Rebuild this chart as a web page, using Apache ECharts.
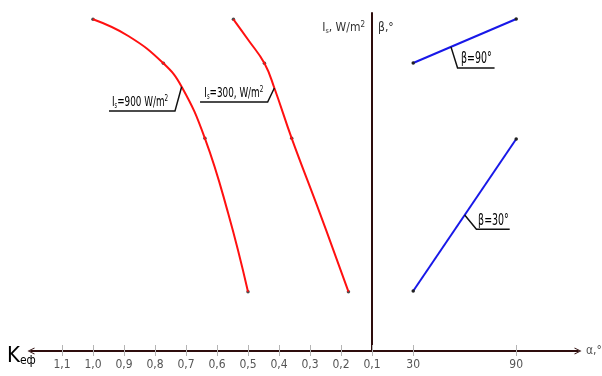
<!DOCTYPE html>
<html><head><meta charset="utf-8">
<script src="https://cdn.jsdelivr.net/npm/echarts@6/dist/echarts.min.js"></script>
<style>html,body{margin:0;padding:0;background:#fff}#c{width:602px;height:376px}</style>
</head><body><div id="c"></div>
<script>
// ---- data ----
const kTicks = [1.1, 1.0, 0.9, 0.8, 0.7, 0.6, 0.5, 0.4, 0.3, 0.2, 0.1];
const alphaTicks = [30, 90];
const curve900K = [1.0, 0.886, 0.773, 0.714, 0.639, 0.564, 0.5];
const curve900Y = [331.7, 315, 287.7, 264.3, 212.7, 137.7, 59.3];
const curve300K = [0.547, 0.499, 0.447, 0.415, 0.359, 0.268, 0.176];
const curve300Y = [331.7, 311, 287.7, 263, 212.7, 137.7, 59.3];
const pts900K = [1.0, 0.773, 0.639, 0.5];
const pts900Y = [331.7, 287.7, 212.7, 59.3];
const pts300K = [0.547, 0.447, 0.359, 0.176];
const pts300Y = [331.7, 287.7, 212.7, 59.3];
const beta90Alpha = [30, 90];
const beta90Y = [288, 332];
const beta30Alpha = [30, 90];
const beta30Y = [60, 212];

// ---- styles ----
const FONT = "'DejaVu Sans Condensed','Liberation Sans Narrow',sans-serif";
const AXIS_COLOR = '#2e0d0d';
const TICK_COLOR = '#b4b4b4';
const chevron = 'path://M50,0 L100,100 L86,100 L50,26 L14,100 L0,100 Z';
const zip = (a, b) => a.map((v, i) => [v, b[i]]);
const kFmt = v => Number(v).toFixed(1).replace('.', ',');
const nameRich = {
  a: {fontSize: 12, lineHeight: 14, color: '#333', fontFamily: FONT},
  s: {fontSize: 7, lineHeight: 7, color: '#333', fontFamily: FONT, verticalAlign: 'bottom'},
  p: {fontSize: 8, lineHeight: 8, color: '#333', fontFamily: FONT, verticalAlign: 'top'},
  b: {fontSize: 12, lineHeight: 14, color: '#333', fontFamily: FONT}
};
const labelRich = {
  a: {fontSize: 14, lineHeight: 16, color: '#333', fontFamily: FONT},
  s: {fontSize: 8, lineHeight: 8, color: '#333', fontFamily: FONT, verticalAlign: 'bottom'},
  p: {fontSize: 9, lineHeight: 9, color: '#333', fontFamily: FONT, verticalAlign: 'top'},
  b: {fontSize: 15, lineHeight: 16, color: '#333', fontFamily: FONT}
};

const chart = echarts.init(document.getElementById('c'));

function upTickAxis(grid, min, max, inverse, ticks) {
  return {gridIndex: grid, type: 'value', min: min, max: max, inverse: inverse, position: 'top', offset: -338,
    axisLine: {show: false, onZero: false}, axisTick: {show: true, customValues: ticks, length: 6, lineStyle: {color: TICK_COLOR, width: 1}},
    axisLabel: {show: false}, splitLine: {show: false}};
}

const option = {
  animation: false,
  backgroundColor: '#fff',
  grid: [
    {left: 31, right: 230, top: 13, bottom: 25, containLabel: false, outerBoundsMode: 'none'},
    {left: 372, right: 24, top: 13, bottom: 25, containLabel: false, outerBoundsMode: 'none'}
  ],
  xAxis: [
    {gridIndex: 0, type: 'value', min: 0.1, max: 1.2, inverse: true, position: 'bottom',
      axisLine: {show: true, onZero: false, lineStyle: {color: AXIS_COLOR, width: 2}, symbol: [chevron, 'none'], symbolSize: [10, 7], symbolOffset: [0, 0]},
      axisTick: {show: true, customValues: kTicks, length: 5, lineStyle: {color: TICK_COLOR, width: 1}},
      axisLabel: {customValues: kTicks, formatter: kFmt, margin: 8, color: '#555', fontSize: 12, fontFamily: FONT},
      splitLine: {show: false}},
    upTickAxis(0, 0.1, 1.2, true, kTicks),
    {gridIndex: 1, type: 'value', min: 6, max: 126, position: 'bottom',
      axisLine: {show: true, onZero: false, lineStyle: {color: AXIS_COLOR, width: 2}, symbol: ['none', chevron], symbolSize: [10, 7], symbolOffset: [0, 0]},
      axisTick: {show: true, customValues: alphaTicks, length: 5, lineStyle: {color: TICK_COLOR, width: 1}},
      axisLabel: {customValues: alphaTicks, formatter: v => String(v), margin: 8, color: '#555', fontSize: 12, fontFamily: FONT},
      splitLine: {show: false},
      name: 'α,°', nameLocation: 'end', nameGap: 8,
      nameTextStyle: {color: '#555', fontSize: 12, fontFamily: FONT, verticalAlign: 'middle', align: 'left'}},
    upTickAxis(1, 6, 126, false, alphaTicks)
  ],
  yAxis: [
    {gridIndex: 0, type: 'value', min: 0, max: 338, position: 'right',
      axisLine: {show: false}, axisTick: {show: false}, axisLabel: {show: false}, splitLine: {show: false},
      name: '{a|I}{s|s}{a|, W/m}{p|2}', nameLocation: 'end', nameGap: -15,
      nameTextStyle: {align: 'right', verticalAlign: 'middle', padding: [0, 7, 0, 0], rich: nameRich}},
    {gridIndex: 1, type: 'value', min: 0, max: 338, position: 'left',
      axisLine: {show: true, onZero: false, lineStyle: {color: AXIS_COLOR, width: 2}},
      axisTick: {show: false}, axisLabel: {show: false}, splitLine: {show: false},
      name: '{b|β,°}', nameLocation: 'end', nameGap: -15,
      nameTextStyle: {align: 'left', verticalAlign: 'middle', padding: [0, 0, 0, 6], rich: nameRich}}
  ],
  series: [
    {type: 'line', xAxisIndex: 0, yAxisIndex: 0, data: zip(curve900K, curve900Y), smooth: 0.45, showSymbol: false,
      lineStyle: {color: '#ff1010', width: 2}},
    {type: 'line', xAxisIndex: 0, yAxisIndex: 0, data: zip(curve300K, curve300Y), smooth: 0.45, showSymbol: false,
      lineStyle: {color: '#ff1010', width: 2}},
    {type: 'scatter', xAxisIndex: 0, yAxisIndex: 0, data: zip(pts900K, pts900Y).concat(zip(pts300K, pts300Y)),
      symbolSize: 3.5, itemStyle: {color: '#222'}},
    {type: 'line', xAxisIndex: 2, yAxisIndex: 1, data: zip(beta90Alpha, beta90Y), symbol: 'circle', symbolSize: 3.5,
      itemStyle: {color: '#222'}, lineStyle: {color: '#1818e8', width: 2}},
    {type: 'line', xAxisIndex: 2, yAxisIndex: 1, data: zip(beta30Alpha, beta30Y), symbol: 'circle', symbolSize: 3.5,
      itemStyle: {color: '#222'}, lineStyle: {color: '#1818e8', width: 2}}
  ]
};
chart.setOption(option);

// ---- annotations anchored to data points ----
const annotations = [
  {text: '{a|I}{s|s}{a|=900 W/m}{p|2}', axes: {xAxisIndex: 0, yAxisIndex: 0}, at: [0.714, 264.3],
    leader: [[0, 0], [-6.7, 24.4], [-72.7, 24.4]], textAt: [-69.7, 23.4]},
  {text: '{a|I}{s|s}{a|=300, W/m}{p|2}', axes: {xAxisIndex: 0, yAxisIndex: 0}, at: [0.415, 263],
    leader: [[0, 0], [-6.7, 14], [-74.3, 14]], textAt: [-70, 13.4]},
  {text: '{b|β=90°}', axes: {xAxisIndex: 2, yAxisIndex: 1}, at: [52, 304.1],
    leader: [[0, 0], [6.6, 21], [43.6, 21]], textAt: [10, 20.4]},
  {text: '{b|β=30°}', axes: {xAxisIndex: 2, yAxisIndex: 1}, at: [60, 136],
    leader: [[0, 0], [11.7, 14.3], [45, 14.3]], textAt: [13.4, 13.7]}
];
const graphics = [];
annotations.forEach(a => {
  const p = chart.convertToPixel(a.axes, a.at);
  graphics.push({type: 'polyline', silent: true, z: 10,
    shape: {points: a.leader.map(o => [p[0] + o[0], p[1] + o[1]])},
    style: {stroke: '#111', lineWidth: 1.5, fill: null}});
  graphics.push({type: 'text', silent: true, z: 10, x: p[0] + a.textAt[0], y: p[1] + a.textAt[1], scaleX: 0.7,
    style: {text: a.text, rich: labelRich, align: 'left', verticalAlign: 'bottom'}});
});
graphics.push({type: 'text', silent: true, left: 7, top: 335,
  style: {text: '{k|K}{s|еф}', rich: {
    k: {fontSize: 22, lineHeight: 22, fontFamily: FONT, color: '#333', verticalAlign: 'top'},
    s: {fontSize: 12, lineHeight: 12, padding: [20, 0, 0, 0], fontFamily: FONT, color: '#333', verticalAlign: 'bottom'}
  }}});
chart.setOption({graphic: graphics});
</script>
</body></html>
